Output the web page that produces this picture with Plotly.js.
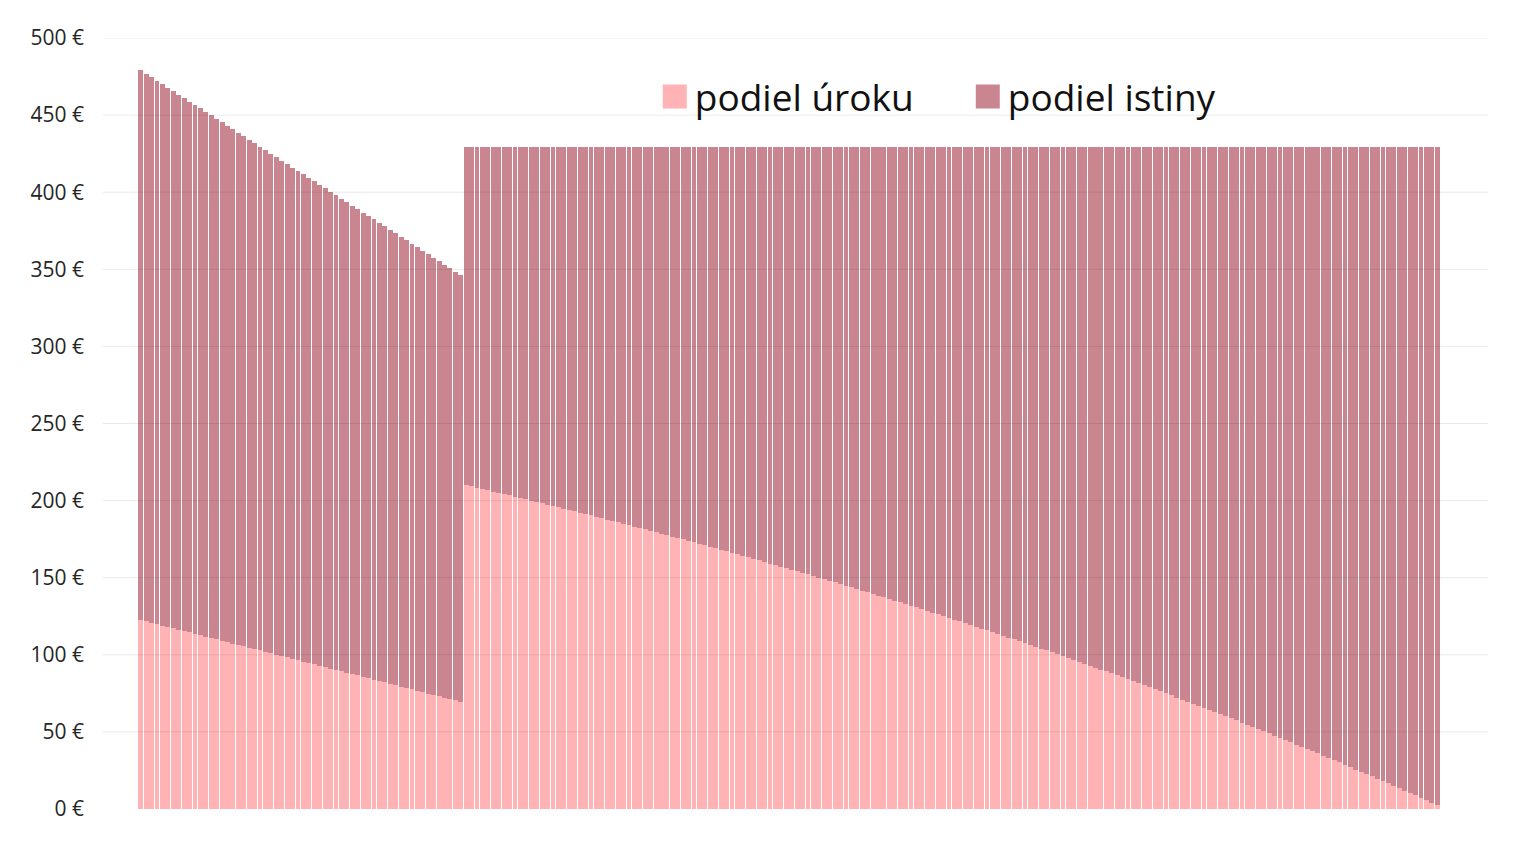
<!DOCTYPE html>
<html>
<head>
<meta charset="utf-8">
<script src="https://cdn.plot.ly/plotly-3.0.1.min.js"></script>
<style>
  html, body { margin: 0; padding: 0; background: #ffffff; }
  #chart { width: 1526px; height: 845px; }
</style>
</head>
<body>
<div id="chart"></div>
<script>
// Monthly installment (total bar height, EUR)
const installment = [
  479.0, 476.8, 474.5, 472.3, 470.0, 467.8, 465.5, 463.3, 461.0, 458.8,
  456.5, 454.3, 452.0, 449.8, 447.5, 445.3, 443.0, 440.8, 438.5, 436.3,
  434.0, 431.8, 429.5, 427.3, 425.0, 422.8, 420.5, 418.3, 416.0, 413.8,
  411.5, 409.3, 407.0, 404.8, 402.5, 400.3, 398.0, 395.8, 393.5, 391.3,
  389.0, 386.8, 384.5, 382.3, 380.0, 377.8, 375.5, 373.3, 371.0, 368.8,
  366.5, 364.3, 362.0, 359.8, 357.5, 355.3, 353.0, 350.8, 348.5, 346.3,
  429, 429, 429, 429, 429, 429, 429, 429, 429, 429, 429, 429, 429, 429, 429, 429, 429, 429, 429, 429,
  429, 429, 429, 429, 429, 429, 429, 429, 429, 429, 429, 429, 429, 429, 429, 429, 429, 429, 429, 429,
  429, 429, 429, 429, 429, 429, 429, 429, 429, 429, 429, 429, 429, 429, 429, 429, 429, 429, 429, 429,
  429, 429, 429, 429, 429, 429, 429, 429, 429, 429, 429, 429, 429, 429, 429, 429, 429, 429, 429, 429,
  429, 429, 429, 429, 429, 429, 429, 429, 429, 429, 429, 429, 429, 429, 429, 429, 429, 429, 429, 429,
  429, 429, 429, 429, 429, 429, 429, 429, 429, 429, 429, 429, 429, 429, 429, 429, 429, 429, 429, 429,
  429, 429, 429, 429, 429, 429, 429, 429, 429, 429, 429, 429, 429, 429, 429, 429, 429, 429, 429, 429,
  429, 429, 429, 429, 429, 429, 429, 429, 429, 429, 429, 429, 429, 429, 429, 429, 429, 429, 429, 429,
  429, 429, 429, 429, 429, 429, 429, 429, 429, 429, 429, 429, 429, 429, 429, 429, 429, 429, 429, 429
];

// Interest part of each installment (EUR)
const interest = [
  122.6, 121.7, 120.8, 119.9, 119.0, 118.1, 117.2, 116.3, 115.4, 114.5,
  113.6, 112.7, 111.8, 110.9, 110.0, 109.1, 108.2, 107.3, 106.4, 105.5,
  104.6, 103.7, 102.8, 101.9, 101.0, 100.1, 99.2, 98.3, 97.4, 96.5,
  95.6, 94.7, 93.8, 92.9, 92.0, 91.1, 90.2, 89.3, 88.4, 87.5,
  86.6, 85.7, 84.8, 83.9, 83.0, 82.1, 81.2, 80.3, 79.4, 78.5,
  77.6, 76.7, 75.8, 74.9, 74.0, 73.1, 72.2, 71.3, 70.4, 69.5,
  210.0, 209.2, 208.4, 207.5, 206.7, 205.9, 205.0, 204.2, 203.4, 202.5,
  201.7, 200.8, 200.0, 199.1, 198.2, 197.4, 196.5, 195.7, 194.8, 193.9,
  193.1, 192.2, 191.3, 190.4, 189.5, 188.6, 187.7, 186.8, 185.9, 185.0,
  184.1, 183.2, 182.3, 181.3, 180.4, 179.5, 178.5, 177.6, 176.7, 175.8,
  174.8, 173.9, 172.9, 171.9, 171.0, 170.0, 169.0, 168.1, 167.1, 166.2,
  165.2, 164.2, 163.2, 162.2, 161.2, 160.2, 159.2, 158.2, 157.2, 156.2,
  155.2, 154.1, 153.1, 152.1, 151.0, 150.0, 149.0, 147.9, 146.9, 145.8,
  144.8, 143.7, 142.6, 141.6, 140.5, 139.4, 138.3, 137.3, 136.2, 135.1,
  134.0, 132.9, 131.8, 130.7, 129.5, 128.4, 127.3, 126.2, 125.1, 124.0,
  122.8, 121.7, 120.5, 119.3, 118.2, 117.0, 115.9, 114.7, 113.5, 112.4,
  111.2, 110.0, 108.8, 107.6, 106.4, 105.2, 104.0, 102.8, 101.6, 100.4,
  99.2, 97.9, 96.7, 95.4, 94.2, 92.9, 91.7, 90.4, 89.2, 87.9,
  86.7, 85.4, 84.1, 82.8, 81.5, 80.2, 78.9, 77.6, 76.3, 75.0,
  73.7, 72.3, 71.0, 69.6, 68.3, 66.9, 65.6, 64.2, 62.9, 61.5,
  60.2, 58.8, 57.4, 56.0, 54.6, 53.2, 51.8, 50.4, 49.0, 47.6,
  46.2, 44.7, 43.3, 41.8, 40.4, 38.9, 37.5, 36.0, 34.6, 33.1,
  31.7, 30.2, 28.7, 27.2, 25.6, 24.1, 22.6, 21.1, 19.6, 18.1,
  16.6, 15.1, 13.5, 11.9, 10.4, 8.8, 7.2, 5.7, 4.1, 2.6
];

// Principal part = installment minus interest
const principal = installment.map((v, i) => Math.round((v - interest[i]) * 10) / 10);

// Month numbers (categories on the hidden x axis)
const months = installment.map((_, i) => i + 1);

const seriesNames = ['podiel úroku', 'podiel istiny'];
const yTickValues = [0, 50, 100, 150, 200, 250, 300, 350, 400, 450, 500];
const yTickLabels = ['0 €', '50 €', '100 €', '150 €', '200 €', '250 €', '300 €', '350 €', '400 €', '450 €', '500 €'];

const data = [
  {
    type: 'bar',
    name: seriesNames[0],
    x: months,
    y: interest,
    marker: { color: 'rgba(255,179,181,0.995)', line: { width: 0 } },
    hoverinfo: 'skip'
  },
  {
    type: 'bar',
    name: seriesNames[1],
    x: months,
    y: principal,
    marker: { color: 'rgba(201,134,144,0.995)', line: { width: 0 } },
    hoverinfo: 'skip'
  }
];

const gridShapes = yTickValues.filter(v => v > 0).map(v => ({
  type: 'line', xref: 'paper', x0: 0, x1: 1, yref: 'y', y0: v, y1: v,
  layer: 'above', line: { color: 'rgba(0,0,0,0.085)', width: 1 }
}));

const layout = {
  width: 1526,
  height: 845,
  margin: { l: 103, r: 38, t: 38, b: 36, pad: 0 },
  paper_bgcolor: '#ffffff',
  plot_bgcolor: '#ffffff',
  barmode: 'stack',
  bargap: 0.1,
  font: { family: '"Open Sans", "Noto Sans", sans-serif', color: '#262626' },
  showlegend: true,
  legend: {
    orientation: 'h',
    x: 0.3984, xanchor: 'left',
    y: 0.9235, yanchor: 'middle',
    traceorder: 'normal',
    entrywidth: 268,
    bgcolor: 'rgba(0,0,0,0)',
    font: { size: 37, color: '#111111', family: '"Open Sans", "Noto Sans", sans-serif' }
  },
  xaxis: {
    type: 'linear',
    range: [-5.95, 249.35],
    showticklabels: false,
    showgrid: false,
    zeroline: false,
    showline: false,
    ticks: ''
  },
  yaxis: {
    range: [0, 500],
    tickmode: 'array',
    tickvals: yTickValues,
    ticktext: yTickLabels,
    showgrid: false,
    zeroline: false,
    showline: false,
    ticks: '',
    ticklabelstandoff: 18,
    tickfont: { size: 21, color: '#262626', family: '"Open Sans", "Noto Sans", sans-serif' }
  },
  shapes: gridShapes
};

Plotly.newPlot('chart', data, layout, { displayModeBar: false, staticPlot: false }).then(gd => {
  gd.querySelectorAll('.legend .legendpoints path').forEach(p => {
    const t = p.getAttribute('transform') || '';
    p.setAttribute('transform', t + ' scale(2)');
  });
});
</script>
</body>
</html>
